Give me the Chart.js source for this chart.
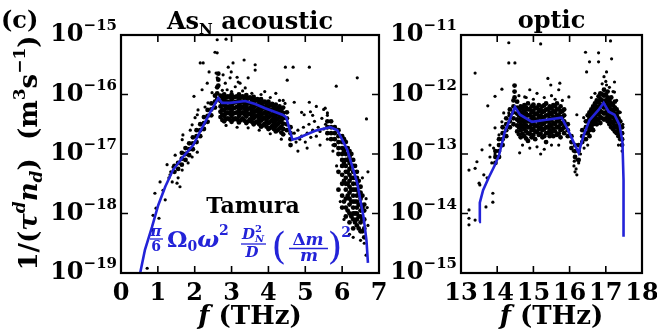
<!DOCTYPE html>
<html>
<head>
<meta charset="utf-8">
<script src="https://cdn.jsdelivr.net/npm/chart.js@4.4.1/dist/chart.umd.min.js"></script>
<style>
  body { margin: 0; background: #fff; }
  #wrap { position: relative; width: 657px; height: 332px; }
  #wrap canvas { position: absolute; left: 0; top: 0; }
</style>
</head>
<body>
<div id="wrap">
  <canvas id="acoustic" width="657" height="332"></canvas>
  <canvas id="optic" width="657" height="332"></canvas>
</div>
<script>
// ================= DATA =================
// values are [f (THz), log10(1/(tau n_d))]
const acousticTicks = [0, 1, 2, 3, 4, 5, 6, 7];
const acousticDecades = [-19, -18, -17, -16, -15];
const opticTicks = [13, 14, 15, 16, 17, 18];
const opticDecades = [-15, -14, -13, -12, -11];

// Tamura model (blue line)
const acousticLine = [[0.52,-19.0],[0.65,-18.61],[0.84,-18.23],[1.01,-17.86],[1.20,-17.55],[1.41,-17.27],
  [1.68,-17.05],[1.96,-16.85],[2.15,-16.62],[2.42,-16.3],[2.64,-16.06],[2.74,-16.14],[2.96,-16.14],
  [3.37,-16.11],[3.64,-16.16],[3.91,-16.23],[4.38,-16.34],[4.48,-16.38],[4.65,-16.76],[4.81,-16.73],
  [5.27,-16.61],[5.68,-16.55],[5.87,-16.6],[6.14,-16.93],[6.41,-17.49],[6.58,-18.06],[6.66,-18.45],
  [6.70,-18.83]];

const opticLine = [[13.50,-14.14],[13.52,-13.82],[13.61,-13.61],[13.77,-13.39],[13.94,-13.18],[14.05,-13.02],
  [14.21,-12.63],[14.40,-12.34],[14.49,-12.21],[14.63,-12.34],[14.96,-12.46],[15.31,-12.43],[15.78,-12.39],
  [15.92,-12.55],[16.11,-12.80],[16.25,-12.98],[16.39,-12.68],[16.55,-12.43],[16.80,-12.26],[16.94,-12.14],
  [17.08,-12.29],[17.24,-12.34],[17.38,-12.51],[17.46,-12.80],[17.49,-13.44],[17.49,-14.39]];

// dense clouds of computed points: [f, log10 values...]
const acousticDense = [
  [1.45,-17.3,-17.2],[1.55,-17.25,-17.15],[1.65,-17.18,-17.08,-16.98],
  [1.75,-17.1,-17.0,-16.9],[1.85,-17.02,-16.92,-16.82],[1.95,-16.92,-16.82,-16.72],
  [2.05,-16.8,-16.7,-16.6],[2.15,-16.7,-16.6,-16.5],[2.25,-16.58,-16.48,-16.38],
  [2.35,-16.46,-16.36,-16.26],[2.45,-16.35,-16.25,-16.15],[2.55,-16.22,-16.12,-16.02],
  [2.61,-16.08,-15.98,-15.88],[2.64,-15.85,-15.75,-15.65],
  [2.70,-16.02,-16.11,-16.2,-16.29,-16.38],[2.75,-16.05,-16.15,-16.25,-16.34,-16.43],
  [2.80,-16.0,-16.09,-16.18,-16.27,-16.36,-16.45],[2.85,-16.05,-16.14,-16.23,-16.32,-16.41],
  [2.90,-16.03,-16.12,-16.21,-16.3,-16.4],[2.95,-16.04,-16.14,-16.23,-16.32,-16.42],
  [3.00,-16.0,-16.09,-16.18,-16.27,-16.36,-16.46],[3.05,-16.05,-16.14,-16.23,-16.32,-16.42],
  [3.10,-16.04,-16.13,-16.22,-16.31,-16.4],[3.15,-16.03,-16.12,-16.21,-16.3,-16.42],
  [3.20,-16.0,-16.09,-16.18,-16.27,-16.36,-16.47],[3.25,-16.05,-16.14,-16.23,-16.32,-16.43],
  [3.30,-16.03,-16.12,-16.21,-16.3,-16.4],[3.35,-16.06,-16.15,-16.24,-16.33,-16.44],
  [3.40,-16.01,-16.1,-16.19,-16.28,-16.37,-16.48],[3.45,-16.06,-16.15,-16.24,-16.33,-16.45],
  [3.50,-16.05,-16.14,-16.23,-16.32,-16.42],[3.55,-16.09,-16.18,-16.27,-16.36,-16.46],
  [3.60,-16.04,-16.13,-16.22,-16.31,-16.4,-16.5],[3.65,-16.1,-16.19,-16.28,-16.37,-16.47],
  [3.70,-16.08,-16.17,-16.26,-16.35,-16.45],[3.75,-16.12,-16.21,-16.3,-16.4,-16.5],
  [3.80,-16.08,-16.17,-16.26,-16.35,-16.44,-16.54],[3.85,-16.14,-16.23,-16.32,-16.41,-16.52],
  [3.90,-16.12,-16.21,-16.3,-16.39,-16.49],[3.95,-16.16,-16.25,-16.34,-16.44,-16.54],
  [4.00,-16.12,-16.21,-16.3,-16.39,-16.48,-16.58],[4.05,-16.18,-16.27,-16.36,-16.46,-16.56],
  [4.10,-16.16,-16.25,-16.34,-16.43,-16.53],[4.15,-16.21,-16.3,-16.39,-16.48,-16.58],
  [4.20,-16.17,-16.26,-16.35,-16.44,-16.53,-16.62],[4.25,-16.23,-16.32,-16.41,-16.5,-16.6],
  [4.30,-16.2,-16.29,-16.38,-16.47,-16.57],[4.35,-16.26,-16.35,-16.44,-16.54,-16.64],
  [4.40,-16.22,-16.31,-16.4,-16.49,-16.58,-16.67],
  [4.50,-16.3,-16.4,-16.5,-16.6],[4.60,-16.55,-16.65,-16.75,-16.85],
  [5.60,-16.45,-16.55,-16.65],[5.70,-16.45,-16.55,-16.65,-16.75],
  [5.80,-16.55,-16.65,-16.75,-16.85],[5.90,-16.6,-16.7,-16.8,-16.9,-17.0,-17.3,-17.6],
  [6.00,-16.7,-16.8,-16.9,-17.0,-17.1,-17.2,-17.35,-17.5,-17.7,-17.9],
  [6.05,-16.75,-16.95,-17.15,-17.45,-17.8],
  [6.10,-16.8,-16.9,-17.0,-17.1,-17.2,-17.3,-17.4,-17.5,-17.6,-17.75,-17.9,-18.05],
  [6.15,-16.9,-17.1,-17.3,-17.5,-17.7,-17.95],
  [6.20,-16.95,-17.05,-17.15,-17.25,-17.35,-17.45,-17.55,-17.65,-17.75,-17.85,-18.0,-18.15],
  [6.25,-17.0,-17.2,-17.4,-17.6,-17.8,-18.05],
  [6.30,-17.1,-17.2,-17.3,-17.4,-17.5,-17.6,-17.7,-17.8,-17.9,-18.0,-18.1,-18.25],
  [6.35,-17.2,-17.4,-17.6,-17.8,-18.0,-18.15],
  [6.40,-17.3,-17.4,-17.5,-17.6,-17.7,-17.8,-17.9,-18.0,-18.1,-18.2],
  [6.45,-17.45,-17.65,-17.85,-18.05,-18.25],
  [6.50,-17.55,-17.65,-17.75,-17.85,-17.95,-18.05,-18.15,-18.3],
  [6.55,-17.7,-17.9,-18.1,-18.3],
  [6.60,-17.85,-17.95,-18.1,-18.25,-18.4]];

const acousticSparse = [[0.71,-18.92],[0.87,-18.03],[0.84,-18.28],[0.95,-17.91],[0.92,-17.66],[1.14,-17.61],
  [1.25,-17.18],[1.33,-17.35],[1.39,-17.47],[1.41,-17.22],[1.52,-17.49],[1.55,-17.40],[1.60,-17.55],
  [1.66,-17.27],[1.47,-17.02],[1.74,-17.10],[1.79,-16.98],[1.82,-17.15],[1.93,-17.05],[2.07,-16.97],
  [1.06,-17.47],[1.20,-17.77],[1.03,-18.08],[1.66,-16.76],[1.68,-16.68],[1.88,-16.60],[1.93,-16.51],
  [2.01,-16.39],[2.07,-16.34],[2.09,-16.26],[2.28,-16.21],[2.36,-16.14],[1.98,-16.03],[2.20,-15.92],
  [2.34,-15.81],[2.47,-15.97],[2.23,-15.47],[2.39,-15.62],[2.15,-15.47],[1.3,-17.4],[1.35,-17.3],
  [2.55,-15.29],[2.61,-15.30],[2.61,-15.08],[2.85,-15.07],[2.58,-15.64],[2.61,-15.72],[2.91,-15.54],
  [2.99,-15.62],[3.04,-15.47],[3.15,-15.71],[3.18,-15.79],[3.34,-15.42],[2.96,-15.72],[3.10,-15.87],
  [3.23,-15.81],[3.37,-15.89],[3.45,-15.72],[2.77,-15.67],[2.83,-15.81],[2.88,-15.92],[3.64,-15.50],
  [3.64,-15.59],[4.46,-15.54],[4.67,-15.54],[5.11,-15.54],[4.51,-15.76],[6.41,-15.72],[5.84,-15.86],
  [6.66,-16.41],[4.70,-16.13],[5.11,-16.13],[4.97,-16.34],[5.14,-16.29],[5.54,-16.23],[5.60,-16.31],
  [2.75,-15.93],[3.0,-15.95],[3.3,-15.94],[3.55,-15.98],[3.8,-16.0],[4.05,-16.05],[4.3,-16.1],
  [2.85,-16.52],[3.15,-16.55],[3.45,-16.56],[3.75,-16.6],[4.05,-16.66],[4.35,-16.75],[3.9,-15.95],
  [4.2,-15.98],[4.4,-16.1],[4.45,-16.15],
  [4.7,-16.65],[4.75,-16.8],[4.8,-16.6],[4.85,-16.75],[4.9,-16.7],[4.95,-16.55],[5.0,-16.8],
  [5.05,-16.65],[5.1,-16.5],[5.15,-16.72],[5.2,-16.6],[5.25,-16.45],[5.3,-16.7],[5.35,-16.55],
  [5.4,-16.62],[5.45,-16.4],[5.5,-16.58],[5.55,-16.5],[5.6,-16.75],[5.65,-16.45],[5.75,-16.85],
  [4.9,-16.3],[5.2,-16.35],[5.3,-16.2],[5.5,-16.25],[5.6,-16.35],[5.05,-16.9],[4.8,-16.95],[5.4,-16.85],
  [6.3,-18.4],[6.6,-18.5],[6.65,-18.7],[6.5,-18.45],[6.2,-18.35],[6.55,-17.4],[6.65,-17.75],[6.7,-17.3],
  [5.75,-16.95],[5.85,-17.2],[5.95,-17.8],[6.05,-18.1],[6.7,-18.2],[6.68,-17.9]];

const opticDense = [
  [13.95,-12.95,-13.05,-13.15],[14.05,-12.75,-12.85,-12.95,-13.05],[14.15,-12.55,-12.65,-12.75,-12.85],
  [14.25,-12.4,-12.5,-12.6,-12.7],[14.35,-12.25,-12.35,-12.45,-12.55],[14.45,-12.1,-12.2,-12.3,-12.4,-12.5],
  [14.48,-11.85,-11.95,-12.05],
  [14.55,-12.12,-12.22,-12.32,-12.42,-12.52,-12.62],[14.60,-12.25,-12.35,-12.45,-12.55,-12.67],
  [14.65,-12.2,-12.3,-12.4,-12.5,-12.6,-12.72],[14.70,-12.24,-12.34,-12.44,-12.54,-12.66],
  [14.75,-12.18,-12.28,-12.38,-12.48,-12.58,-12.7],[14.80,-12.22,-12.32,-12.42,-12.52,-12.62,-12.74],
  [14.85,-12.15,-12.25,-12.35,-12.45,-12.55,-12.65,-12.78],[14.90,-12.25,-12.35,-12.45,-12.55,-12.66],
  [14.95,-12.2,-12.3,-12.4,-12.5,-12.6,-12.72],[15.00,-12.17,-12.27,-12.37,-12.47,-12.57,-12.68],
  [15.05,-12.22,-12.32,-12.42,-12.52,-12.62,-12.75],[15.10,-12.23,-12.33,-12.43,-12.53,-12.63],
  [15.15,-12.18,-12.28,-12.38,-12.48,-12.58,-12.68],[15.20,-12.25,-12.35,-12.45,-12.55,-12.66],
  [15.25,-12.2,-12.3,-12.4,-12.5,-12.6,-12.72],[15.30,-12.18,-12.28,-12.38,-12.48,-12.58,-12.7],
  [15.35,-12.15,-12.25,-12.35,-12.45,-12.55,-12.65,-12.8],[15.40,-12.25,-12.35,-12.45,-12.55,-12.65],
  [15.45,-12.2,-12.3,-12.4,-12.5,-12.6,-12.7],[15.50,-12.23,-12.33,-12.43,-12.53,-12.64],
  [15.55,-12.18,-12.28,-12.38,-12.48,-12.58,-12.7],[15.60,-12.2,-12.3,-12.4,-12.5,-12.62],
  [15.65,-12.15,-12.25,-12.35,-12.45,-12.55,-12.68],[15.70,-12.25,-12.35,-12.45,-12.55,-12.66],
  [15.75,-12.2,-12.3,-12.4,-12.5,-12.6,-12.72],[15.80,-12.28,-12.38,-12.48,-12.58],
  [15.85,-12.25,-12.35,-12.45,-12.55,-12.65],
  [15.95,-12.5,-12.6,-12.7],[16.05,-12.7,-12.8,-12.9],[16.15,-12.85,-12.95,-13.05],[16.25,-12.85,-12.95,-13.1],
  [16.35,-12.6,-12.7,-12.8],[16.45,-12.45,-12.55,-12.65,-12.75],[16.50,-12.35,-12.45,-12.55,-12.65],
  [16.55,-12.3,-12.4,-12.5,-12.6,-12.7],[16.60,-12.25,-12.35,-12.45,-12.55],
  [16.65,-12.2,-12.3,-12.4,-12.5,-12.6],[16.70,-12.15,-12.25,-12.35,-12.45],
  [16.75,-12.1,-12.2,-12.3,-12.4,-12.5],[16.80,-12.03,-12.13,-12.23,-12.33,-12.43],
  [16.85,-11.98,-12.08,-12.18,-12.28,-12.38,-12.48],[16.90,-12.0,-12.1,-12.2,-12.3,-12.4],
  [16.95,-11.92,-12.02,-12.12,-12.22,-12.32,-12.42],[17.00,-12.0,-12.1,-12.2,-12.3,-12.4],
  [17.05,-11.95,-12.05,-12.15,-12.25,-12.35,-12.45],[17.10,-12.1,-12.2,-12.3,-12.4,-12.5],
  [17.15,-12.05,-12.15,-12.25,-12.35,-12.45,-12.55],[17.20,-12.18,-12.28,-12.38,-12.48,-12.58],
  [17.25,-12.12,-12.22,-12.32,-12.42,-12.52,-12.62],[17.30,-12.25,-12.35,-12.45,-12.55,-12.65],
  [17.35,-12.3,-12.4,-12.5,-12.6,-12.7],[17.40,-12.45,-12.55,-12.65,-12.75],
  [17.45,-12.55,-12.65,-12.75,-12.85]];

const opticSparse = [[14.32,-11.13],[15.20,-11.15],[14.32,-11.47],[14.49,-11.47],[13.39,-11.64],[13.74,-12.19],
  [14.13,-11.91],[13.94,-12.03],[15.40,-11.73],[15.48,-11.84],[15.73,-11.81],[15.70,-11.92],[14.90,-11.92],
  [14.76,-12.04],[15.98,-12.04],[16.20,-12.34],[16.39,-12.39],[16.44,-11.29],[16.80,-11.30],[17.13,-11.10],
  [17.16,-11.40],[16.55,-11.45],[16.80,-11.45],[16.47,-11.62],[17.02,-11.62],[17.02,-11.84],[17.24,-11.96],
  [17.24,-11.79],
  [13.22,-13.27],[13.44,-13.13],[13.39,-13.24],[13.50,-13.49],[13.63,-13.35],[13.52,-13.52],[13.72,-13.40],
  [13.88,-13.66],[13.88,-13.81],[13.69,-13.89],[13.22,-13.94],[13.22,-14.08],[13.39,-14.11],[13.22,-14.19],
  [13.80,-13.05],[13.94,-13.0],[13.80,-12.85],[13.58,-12.93],[14.05,-12.68],[13.94,-12.56],[14.13,-12.46],
  [14.18,-12.31],[14.32,-12.31],[13.85,-13.15],[13.9,-12.9],
  [16.1,-12.95],[16.15,-13.05],[16.2,-13.1],[16.12,-13.2],[16.18,-13.25],[16.25,-13.15],[16.3,-13.0],
  [16.22,-12.95],[16.15,-13.3],[16.2,-13.35],[16.13,-13.12],
  [14.6,-12.02],[14.8,-12.05],[15.0,-12.08],[15.1,-11.98],[15.3,-12.05],[15.5,-12.02],[15.6,-12.08],
  [15.8,-12.1],[14.7,-12.85],[14.9,-12.9],[15.1,-12.88],[15.3,-12.92],[15.5,-12.85],[15.7,-12.85],
  [14.62,-12.98],[15.2,-13.0],
  [16.6,-12.05],[16.7,-11.98],[16.9,-11.82],[17.0,-11.78],[17.1,-11.88],[17.2,-11.95],[17.3,-12.1],
  [17.4,-12.3],[17.45,-12.95],[17.47,-12.5],[16.4,-12.9],[16.5,-12.85],[17.35,-12.85],[16.95,-11.7]];

// ================= HELPERS =================
const FONT = '"DejaVu Serif"';
const BLUE = "#2323d8";

function font(size, italic, weight) {
    return (italic ? "italic " : "") + (weight || "bold") + " " + size + "px " + FONT;
}

function toPoints(pairs) {
    return pairs.map(p => ({ x: p[0], y: Math.pow(10, p[1]) }));
}

function columnsToPoints(cols) {
    const pts = [];
    cols.forEach(c => {
        for (let i = 1; i < c.length; i++) pts.push({ x: c[0], y: Math.pow(10, c[i]) });
    });
    return pts;
}

// parts: [text, size, dy, italic]
function rich(ctx, parts, x, y, align) {
    ctx.textAlign = "left";
    let w = 0;
    parts.forEach(p => { ctx.font = font(p[1], p[3]); w += ctx.measureText(p[0]).width; });
    let cx = align === "right" ? x - w : align === "center" ? x - w / 2 : x;
    parts.forEach(p => {
        ctx.font = font(p[1], p[3]);
        ctx.fillText(p[0], cx, y + p[2]);
        cx += ctx.measureText(p[0]).width;
    });
}

// ================= FRAME / TICKS / LABELS =================
function framePlugin(xTicks, decades, extra) {
    return {
        id: "frame",
        afterDraw(chart) {
            const ctx = chart.ctx, a = chart.chartArea;
            const sx = chart.scales.x, sy = chart.scales.y;
            ctx.save();
            ctx.strokeStyle = "#000";
            ctx.fillStyle = "#000";
            ctx.textBaseline = "alphabetic";

            ctx.lineWidth = 1.6;
            ctx.beginPath();
            xTicks.forEach(v => {
                const px = sx.getPixelForValue(v);
                ctx.moveTo(px, a.bottom); ctx.lineTo(px, a.bottom - 7);
                ctx.moveTo(px, a.top); ctx.lineTo(px, a.top + 7);
            });
            decades.forEach(d => {
                const py = sy.getPixelForValue(Math.pow(10, d));
                ctx.moveTo(a.left, py); ctx.lineTo(a.left + 7, py);
                ctx.moveTo(a.right, py); ctx.lineTo(a.right - 7, py);
            });
            ctx.stroke();

            ctx.lineWidth = 2.2;
            ctx.strokeRect(a.left, a.top, a.right - a.left, a.bottom - a.top);

            // tick labels
            ctx.font = font(24);
            ctx.textAlign = "center";
            xTicks.forEach(v => ctx.fillText(String(v), sx.getPixelForValue(v), 300));
            decades.forEach(d => {
                const py = sy.getPixelForValue(Math.pow(10, d));
                rich(ctx, [["10", 24, 0], ["\u2212" + Math.abs(d), 15, -11]], a.left - 4, py + 6, "right");
            });

            // x axis title
            const cx = (a.left + a.right) / 2;
            rich(ctx, [["f", 26, 0, true], [" (THz)", 26, 0]], cx, 324, "center");

            extra(ctx, chart, cx);
            ctx.restore();
        }
    };
}

function acousticExtra(ctx, chart, cx) {
    rich(ctx, [["(c)", 24, 0]], 1, 28, "left");
    rich(ctx, [["As", 24, 0], ["N", 15, 5], [" acoustic", 24, 0]], cx, 29, "center");

    // y axis title
    ctx.save();
    ctx.translate(37, 153);
    ctx.rotate(-Math.PI / 2);
    rich(ctx, [["1/(", 26, 0], ["\u03c4", 26, 0, true], ["d", 17, -12, true], ["n", 26, 0, true],
        ["d", 17, 5, true], [")  (m", 26, 0], ["3", 17, -12], ["s", 26, 0], ["\u22121", 17, -12],
        [")", 26, 0]], 0, 0, "center");
    ctx.restore();

    rich(ctx, [["Tamura", 22, 0]], 253, 213, "center");

    // formula
    ctx.fillStyle = BLUE;
    ctx.strokeStyle = BLUE;
    ctx.lineWidth = 1.3;
    ctx.textAlign = "center";
    ctx.font = font(15, true); ctx.fillText("\u03c0", 156, 236);
    ctx.font = font(14); ctx.fillText("6", 156, 251);
    ctx.beginPath(); ctx.moveTo(150, 239); ctx.lineTo(163, 239); ctx.stroke();
    rich(ctx, [["\u03a9", 23, 0], ["0", 14, 4], ["\u03c9", 23, 0, true], ["2", 14, -12]], 167, 247, "left");
    rich(ctx, [["D", 15, 0, true]], 242, 239, "left");
    ctx.textAlign = "left";
    ctx.font = font(10); ctx.fillText("2", 255, 232);
    ctx.font = font(10, true); ctx.fillText("N", 255, 242);
    ctx.beginPath(); ctx.moveTo(241, 244); ctx.lineTo(266, 244); ctx.stroke();
    ctx.textAlign = "center";
    ctx.font = font(15, true); ctx.fillText("D", 252, 257);
    ctx.font = font(38, false, "normal");
    ctx.fillText("(", 279, 259);
    ctx.fillText(")", 335, 259);
    rich(ctx, [["\u0394", 17, 0], ["m", 17, 0, true]], 308, 245, "center");
    ctx.beginPath(); ctx.moveTo(289, 248.5); ctx.lineTo(328, 248.5); ctx.stroke();
    ctx.textAlign = "center";
    ctx.font = font(17, true); ctx.fillText("m", 309, 261);
    ctx.font = font(14); ctx.fillText("2", 346, 237);
}

function opticExtra(ctx, chart, cx) {
    rich(ctx, [["optic", 24, 0]], cx, 28, "center");
}

// ================= CREATE CHARTS =================
function makeChart(id, opts) {
    return new Chart(document.getElementById(id), {
        type: "scatter",
        data: {
            datasets: [
                {
                    data: toPoints(opts.line), showLine: true, borderColor: BLUE, borderWidth: 2.6,
                    pointRadius: 0, tension: 0, order: 0
                },
                {
                    data: columnsToPoints(opts.dense), backgroundColor: "#000", borderWidth: 0,
                    pointRadius: 2.4, order: 1
                },
                {
                    data: toPoints(opts.sparse), backgroundColor: "#000", borderWidth: 0,
                    pointRadius: 1.6, order: 2
                }
            ]
        },
        options: {
            responsive: false,
            animation: false,
            events: [],
            layout: { padding: opts.padding },
            plugins: { legend: { display: false }, tooltip: { enabled: false } },
            scales: {
                x: { type: "linear", min: opts.xMin, max: opts.xMax, display: false },
                y: { type: "logarithmic", min: opts.yMin, max: opts.yMax, display: false }
            }
        },
        plugins: [framePlugin(opts.ticks, opts.decades, opts.extra)]
    });
}

makeChart("acoustic", {
    line: acousticLine, dense: acousticDense, sparse: acousticSparse,
    ticks: acousticTicks, decades: acousticDecades,
    xMin: 0, xMax: 7, yMin: 1e-19, yMax: 1e-15,
    padding: { left: 121, right: 278, top: 35, bottom: 59 },
    extra: acousticExtra
});

makeChart("optic", {
    line: opticLine, dense: opticDense, sparse: opticSparse,
    ticks: opticTicks, decades: opticDecades,
    xMin: 13, xMax: 18, yMin: 1e-15, yMax: 1e-11,
    padding: { left: 461, right: 15, top: 35, bottom: 59 },
    extra: opticExtra
});
</script>
</body>
</html>
